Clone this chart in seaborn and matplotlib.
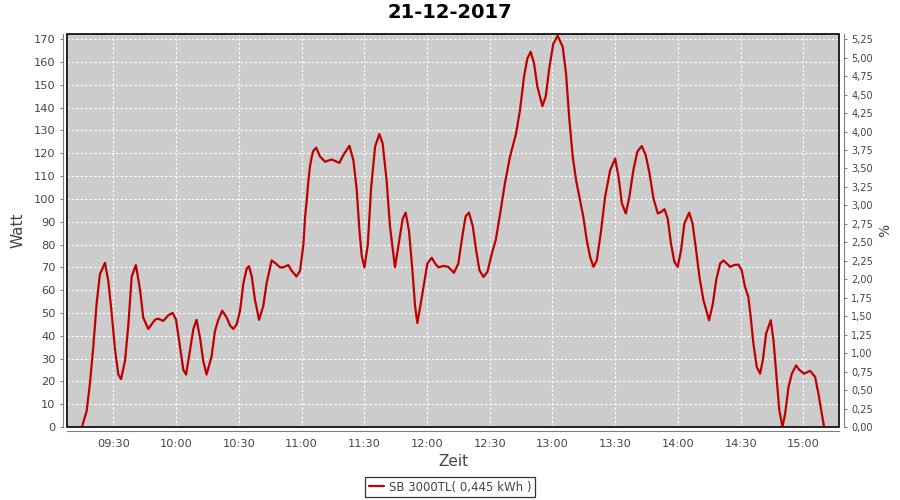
import pandas as pd
import matplotlib.pyplot as plt
import matplotlib.dates as mdates
import matplotlib.ticker as mticker
from matplotlib.patches import Rectangle
import seaborn as sns

# readings of the inverter on 21-12-2017
day = '2017-12-21'
times = [
    '09:15:00', '09:17:15', '09:18:48', '09:20:24', '09:22:00', '09:23:36', '09:26:00', '09:27:36',
    '09:29:12', '09:30:48', '09:32:24', '09:33:42', '09:35:36', '09:37:12', '09:38:48', '09:40:48',
    '09:42:48', '09:44:18', '09:46:42', '09:49:54', '09:51:30', '09:53:54', '09:56:18', '09:58:24',
    '10:00:00', '10:01:54', '10:03:30', '10:04:48', '10:06:42', '10:08:18', '10:09:48', '10:11:24',
    '10:13:00', '10:14:36', '10:17:00', '10:18:36', '10:20:12', '10:22:06', '10:24:12', '10:25:48',
    '10:27:24', '10:29:00', '10:30:36', '10:32:12', '10:33:48', '10:34:54', '10:36:12', '10:37:42',
    '10:39:42', '10:41:42', '10:43:18', '10:45:42', '10:47:18', '10:49:42', '10:51:18', '10:53:42',
    '10:55:18', '10:57:36', '10:59:18', '11:00:54', '11:01:42', '11:02:30', '11:03:18', '11:04:00',
    '11:04:54', '11:05:36', '11:07:00', '11:08:54', '11:11:18', '11:14:24', '11:18:06', '11:20:00',
    '11:22:54', '11:24:48', '11:26:24', '11:27:42', '11:28:48', '11:30:06', '11:31:42', '11:33:18',
    '11:35:12', '11:37:12', '11:38:48', '11:40:42', '11:42:18', '11:44:42', '11:46:48', '11:48:24',
    '11:49:48', '11:51:24', '11:53:00', '11:54:18', '11:55:24', '11:57:00', '11:58:36', '12:00:12',
    '12:02:18', '12:03:54', '12:05:30', '12:07:48', '12:10:12', '12:12:54', '12:15:00', '12:17:06',
    '12:18:30', '12:20:06', '12:21:54', '12:23:30', '12:25:06', '12:27:00', '12:28:54', '12:31:00',
    '12:32:54', '12:35:00', '12:37:18', '12:39:42', '12:42:36', '12:44:30', '12:46:24', '12:48:00',
    '12:49:36', '12:51:12', '12:52:48', '12:55:12', '12:56:48', '12:58:36', '13:00:24', '13:02:30',
    '13:04:54', '13:06:30', '13:08:06', '13:09:42', '13:11:18', '13:13:12', '13:14:48', '13:16:24',
    '13:18:00', '13:19:36', '13:21:12', '13:23:06', '13:25:12', '13:27:36', '13:30:00', '13:31:36',
    '13:33:12', '13:35:06', '13:36:48', '13:38:42', '13:40:36', '13:42:42', '13:44:36', '13:46:24',
    '13:48:18', '13:50:24', '13:52:00', '13:53:36', '13:55:06', '13:56:42', '13:58:18', '13:59:54',
    '14:01:30', '14:03:06', '14:05:24', '14:07:00', '14:08:30', '14:10:18', '14:12:12', '14:14:54',
    '14:16:42', '14:18:18', '14:20:12', '14:21:48', '14:23:24', '14:25:00', '14:26:54', '14:29:00',
    '14:30:30', '14:32:06', '14:33:42', '14:34:48', '14:36:06', '14:37:42', '14:39:18', '14:40:36',
    '14:42:12', '14:44:24', '14:45:42', '14:47:18', '14:48:30', '14:50:00', '14:51:18', '14:52:54',
    '14:54:30', '14:56:30', '14:58:06', '15:00:18', '15:03:12', '15:05:36', '15:07:12', '15:08:48',
    '15:09:54',
]
watt = [
    0, 7, 19, 35, 54, 67, 72, 64,
    50, 34, 23, 21, 29, 45, 66, 71,
    60, 48, 43, 47, 47.5, 46.5, 49, 50,
    47, 35, 25, 23, 34, 43, 47, 39.5,
    29, 23, 31, 42, 47, 51, 48, 44.5,
    43, 45, 51, 63, 69.5, 70.5, 66, 56,
    47, 53, 63, 73, 72, 70, 70, 71,
    68.5, 66, 68.5, 80, 92, 99.5, 108, 114,
    118.5, 121, 122.5, 118.5, 116.3, 117.3, 115.8, 119.2,
    123.3, 117, 104, 86, 75, 70, 80, 105,
    123, 128.4, 124.3, 108, 88, 70, 82, 91.4,
    94, 86, 69, 53, 45.6, 54, 63, 71.7,
    74.2, 71.7, 70, 70.6, 70.2, 67.6, 71.7, 84.8,
    92.4, 94, 88, 77.5, 68.7, 65.8, 68, 76,
    82, 93.6, 107, 118.5, 128.7, 139, 153.6, 161.6,
    164.5, 159.4, 149.2, 140.7, 145, 158, 168, 171.5,
    166.7, 155, 134.6, 118.5, 108.2, 99.5, 92, 82,
    74.6, 70.2, 73, 85, 101, 112.6, 117.7, 109.7,
    98, 93.6, 101, 112.6, 120.7, 123.2, 119.2, 111.3,
    100.2, 93.6, 94.3, 95.5, 91.4, 80.4, 72.4, 70.2,
    77.5, 89.2, 94, 89.2, 79, 65.8, 55.6, 46.8,
    54, 64.4, 71.7, 73, 71.7, 70.2, 71, 71.2,
    68.7, 61.4, 57, 48.3, 36.6, 26.3, 23.4, 29.3,
    41, 46.8, 38, 20.5, 7.3, 0, 6, 17.6,
    23.4, 27, 25, 23.4, 24.6, 22, 14.6, 6,
    0,
]
series_label = 'SB 3000TL( 0,445 kWh )'
pct_ticks = [i * 0.25 for i in range(22)]

df = pd.DataFrame({'Zeit': pd.to_datetime([day + ' ' + t for t in times]), 'Watt': watt})

sns.set_style('white')
plt.rcParams['font.family'] = ['DejaVu Sans']

fig = plt.figure(figsize=(9, 5), dpi=100)
ax = fig.add_axes([0.0748, 0.146, 0.8578, 0.786])
ax.set_facecolor('#cccccc')

sns.lineplot(data=df, x='Zeit', y='Watt', color='#c00000', linewidth=1.6, label=series_label, ax=ax, legend=False)

ax.set_xlim(pd.Timestamp(day + ' 09:08:00'), pd.Timestamp(day + ' 15:17:12'))
ax.set_ylim(0, 172.3)
ax.yaxis.set_major_locator(mticker.MultipleLocator(10))
ax.xaxis.set_major_locator(mdates.MinuteLocator(byminute=[0, 30]))
ax.xaxis.set_major_formatter(mdates.DateFormatter('%H:%M'))
ax.grid(True, color='white', linestyle=(0, (2, 2)), linewidth=0.8)

grey = '#808080'
txt = '#444444'
for side in ['top', 'right']:
    ax.spines[side].set_visible(False)
for side in ['left', 'bottom']:
    ax.spines[side].set_position(('outward', 3))
    ax.spines[side].set_color(grey)
ax.tick_params(axis='both', colors=grey, labelcolor=txt, labelsize=8.2, length=2, width=0.8)
ax.add_patch(Rectangle((0, 0), 1, 1, transform=ax.transAxes, fill=False, edgecolor='black', linewidth=1.2, zorder=5, clip_on=False))

ax.set_xlabel('Zeit', fontsize=11, color=txt, labelpad=4)
ax.set_ylabel('Watt', fontsize=11, color=txt, labelpad=6)

ax2 = ax.twinx()
ax2.set_ylim(0, 172.3 * 5.25 / 170)
ax2.set_yticks(pct_ticks)
ax2.yaxis.set_major_formatter(mticker.FuncFormatter(lambda v, p: f'{v:.2f}'.replace('.', ',')))
for side in ['top', 'left', 'bottom']:
    ax2.spines[side].set_visible(False)
ax2.spines['right'].set_position(('outward', 3))
ax2.spines['right'].set_color(grey)
ax2.tick_params(axis='y', colors=grey, labelcolor=txt, labelsize=7, length=2, width=0.8)
ax2.set_ylabel('%', fontsize=10, color=txt, labelpad=4)

fig.suptitle('21-12-2017', fontsize=14, fontweight='bold', y=0.995, color='black')

handles, labels = ax.get_legend_handles_labels()
leg = fig.legend(handles, labels, loc='center', bbox_to_anchor=(0.5, 0.026), fontsize=8.5,
                 frameon=True, fancybox=False, edgecolor='black', handlelength=1.3, handletextpad=0.4,
                 borderpad=0.3)
leg.get_frame().set_linewidth(0.9)
for t in leg.get_texts():
    t.set_color(txt)

fig.savefig('out.png', dpi=100)
